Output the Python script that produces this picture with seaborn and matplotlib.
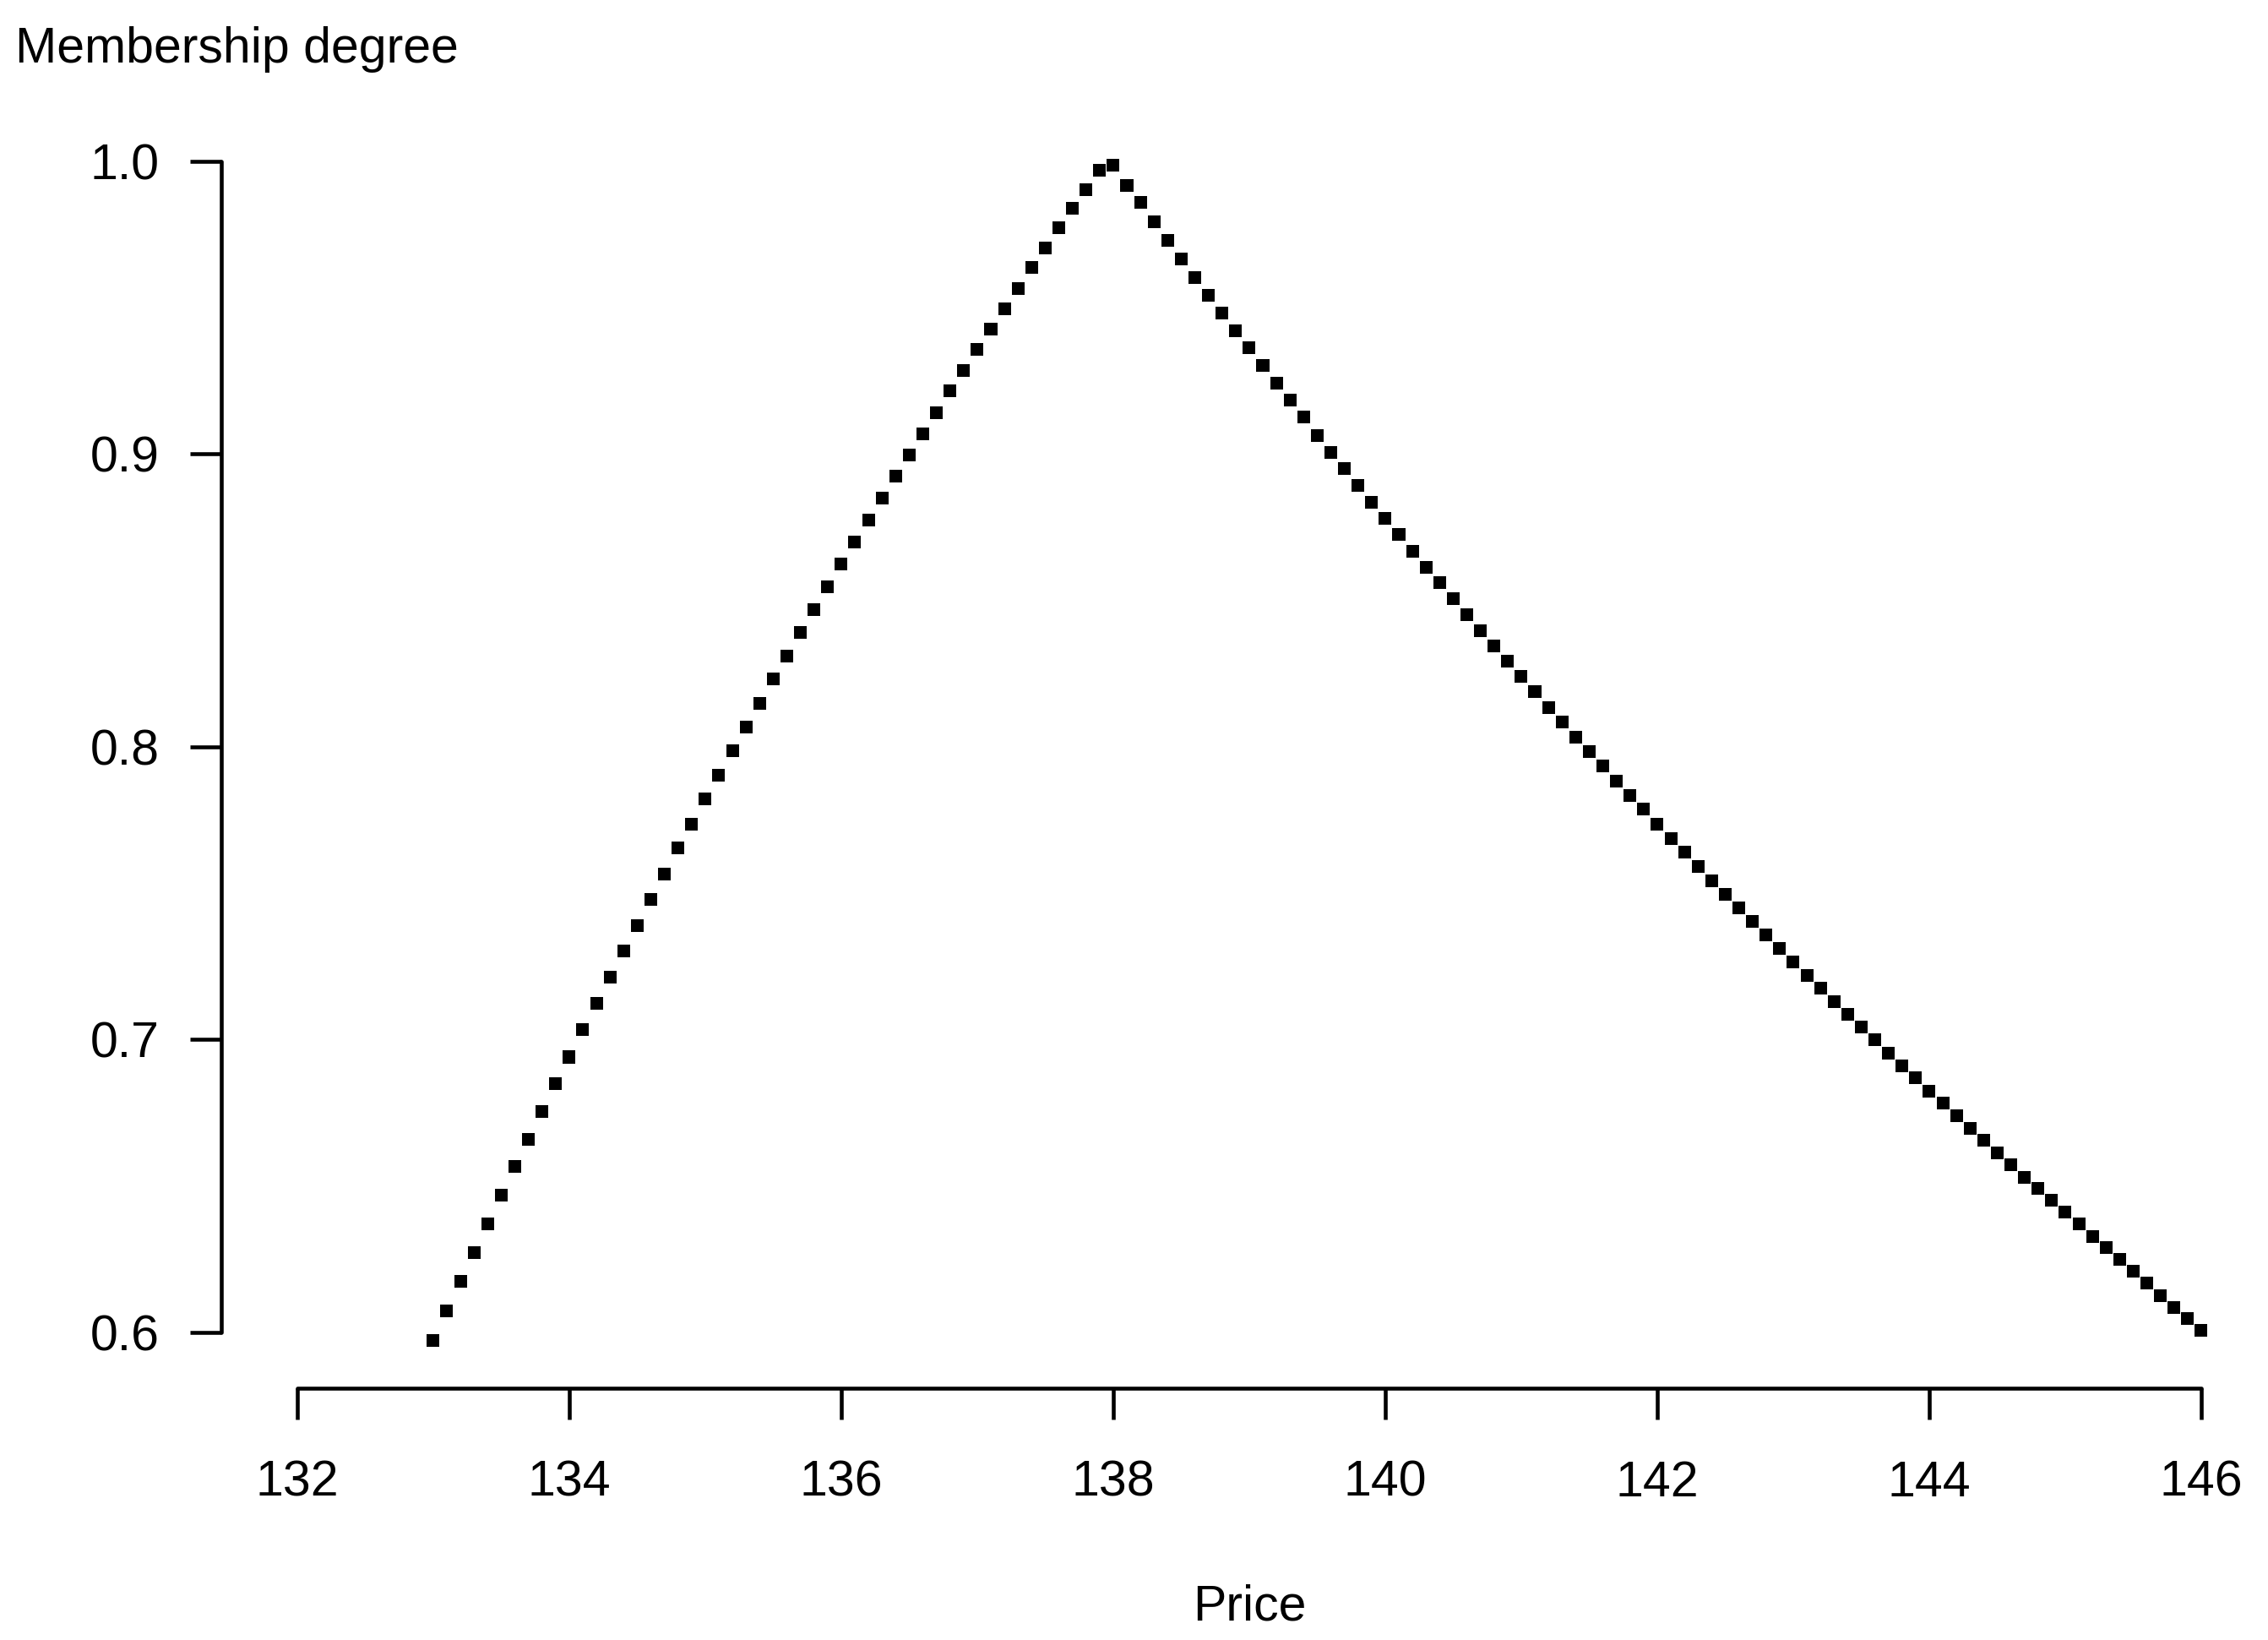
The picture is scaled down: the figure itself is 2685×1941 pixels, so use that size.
import matplotlib
matplotlib.use("Agg")
import matplotlib.pyplot as plt
import seaborn as sns
import pandas as pd

# ---- data ----
price_rise = [133.0, 133.1, 133.2, 133.3, 133.4, 133.5, 133.6, 133.7, 133.8, 133.9,
              134.0, 134.1, 134.2, 134.3, 134.4, 134.5, 134.6, 134.7, 134.8, 134.9,
              135.0, 135.1, 135.2, 135.3, 135.4, 135.5, 135.6, 135.7, 135.8, 135.9,
              136.0, 136.1, 136.2, 136.3, 136.4, 136.5, 136.6, 136.7, 136.8, 136.9,
              137.0, 137.1, 137.2, 137.3, 137.4, 137.5, 137.6, 137.7, 137.8, 137.9,
              138.0]
degree_rise = [0.5972, 0.6074, 0.6173, 0.6273, 0.6370, 0.6469, 0.6566, 0.6660, 0.6754, 0.6848,
               0.6940, 0.7034, 0.7122, 0.7213, 0.7302, 0.7390, 0.7479, 0.7565, 0.7653, 0.7736,
               0.7822, 0.7902, 0.7985, 0.8068, 0.8148, 0.8231, 0.8309, 0.8389, 0.8469, 0.8547,
               0.8624, 0.8699, 0.8773, 0.8848, 0.8923, 0.8997, 0.9069, 0.9141, 0.9216, 0.9285,
               0.9357, 0.9426, 0.9495, 0.9564, 0.9636, 0.9703, 0.9772, 0.9838, 0.9902, 0.9968,
               0.9985]
price_fall = [138.1, 138.2, 138.3, 138.4, 138.5, 138.6, 138.7, 138.8, 138.9, 139.0,
              139.1, 139.2, 139.3, 139.4, 139.5, 139.6, 139.7, 139.8, 139.9, 140.0,
              140.1, 140.2, 140.3, 140.4, 140.5, 140.6, 140.7, 140.8, 140.9, 141.0,
              141.1, 141.2, 141.3, 141.4, 141.5, 141.6, 141.7, 141.8, 141.9, 142.0,
              142.1, 142.2, 142.3, 142.4, 142.5, 142.6, 142.7, 142.8, 142.9, 143.0,
              143.1, 143.2, 143.3, 143.4, 143.5, 143.6, 143.7, 143.8, 143.9, 144.0,
              144.1, 144.2, 144.3, 144.4, 144.5, 144.6, 144.7, 144.8, 144.9, 145.0,
              145.1, 145.2, 145.3, 145.4, 145.5, 145.6, 145.7, 145.8, 145.9, 146.0]
degree_fall = [0.9918, 0.9858, 0.9794, 0.9730, 0.9667, 0.9603, 0.9542, 0.9481, 0.9421, 0.9362,
               0.9302, 0.9241, 0.9183, 0.9125, 0.9064, 0.9006, 0.8950, 0.8892, 0.8834, 0.8779,
               0.8724, 0.8668, 0.8613, 0.8560, 0.8505, 0.8450, 0.8397, 0.8345, 0.8292, 0.8240,
               0.8187, 0.8134, 0.8085, 0.8032, 0.7982, 0.7933, 0.7883, 0.7833, 0.7786, 0.7736,
               0.7686, 0.7639, 0.7592, 0.7543, 0.7495, 0.7449, 0.7404, 0.7357, 0.7310, 0.7266,
               0.7219, 0.7175, 0.7130, 0.7086, 0.7042, 0.6998, 0.6953, 0.6909, 0.6868, 0.6823,
               0.6782, 0.6738, 0.6696, 0.6655, 0.6613, 0.6572, 0.6530, 0.6492, 0.6450, 0.6409,
               0.6370, 0.6328, 0.6290, 0.6248, 0.6207, 0.6168, 0.6126, 0.6085, 0.6046, 0.6005]

x_ticks = [132, 134, 136, 138, 140, 142, 144, 146]
x_tick_labels = ["132", "134", "136", "138", "140", "142", "144", "146"]
y_ticks = [0.6, 0.7, 0.8, 0.9, 1.0]
y_tick_labels = ["0.6", "0.7", "0.8", "0.9", "1.0"]
x_label = "Price"
y_label = "Membership degree"

df = pd.DataFrame({"Price": price_rise + price_fall,
                   "Degree": degree_rise + degree_fall})

# ---- style ----
sns.set_theme(style="white")
plt.rcParams["font.family"] = ["Liberation Sans", "DejaVu Sans"]

FS = 42.5
LW = 3.3

fig = plt.figure(figsize=(26.85, 19.41), dpi=100)
W, H = 2685, 1941
left_px, right_px = 261.7, 2696.1
top_px, bottom_px = 140.3, 1642.7
ax = fig.add_axes([left_px / W, (H - bottom_px) / H,
                   (right_px - left_px) / W, (bottom_px - top_px) / H])

sns.scatterplot(data=df, x="Price", y="Degree", ax=ax, marker="s", s=117,
                color="black", linewidth=0, edgecolor="none", legend=False)

ax.set_xlim(131.44, 146.56)
ax.set_ylim(0.58095, 1.01456)

ax.set_xticks(x_ticks)
ax.set_xticklabels(x_tick_labels)
ax.set_yticks(y_ticks)
ax.set_yticklabels(y_tick_labels)

for side in ["top", "right"]:
    ax.spines[side].set_visible(False)
for side in ["left", "bottom"]:
    ax.spines[side].set_visible(True)
    ax.spines[side].set_color("black")
    ax.spines[side].set_linewidth(LW)
    ax.spines[side].set_capstyle("round")
ax.spines["left"].set_bounds(0.6, 1.0)
ax.spines["bottom"].set_bounds(132, 146)

ax.tick_params(axis="both", which="major", direction="out", length=26.6,
               width=LW, color="black", labelsize=FS, labelcolor="black",
               left=True, bottom=True)
ax.tick_params(axis="x", pad=34.5)
ax.tick_params(axis="y", pad=26)
ax.grid(False)

ax.set_xlabel(x_label, fontsize=FS, color="black")
ax.xaxis.label.set_va("baseline")
ax.xaxis.set_label_coords(0.5, -0.1826)

ax.set_ylabel(y_label, fontsize=FS, color="black", rotation=0,
              ha="left", va="baseline")
ax.yaxis.set_label_coords((18 - left_px) / (right_px - left_px),
                          (bottom_px - 74) / (bottom_px - top_px))

fig.patch.set_facecolor("white")
ax.set_facecolor("white")
fig.savefig("out.png", dpi=100, facecolor="white")
